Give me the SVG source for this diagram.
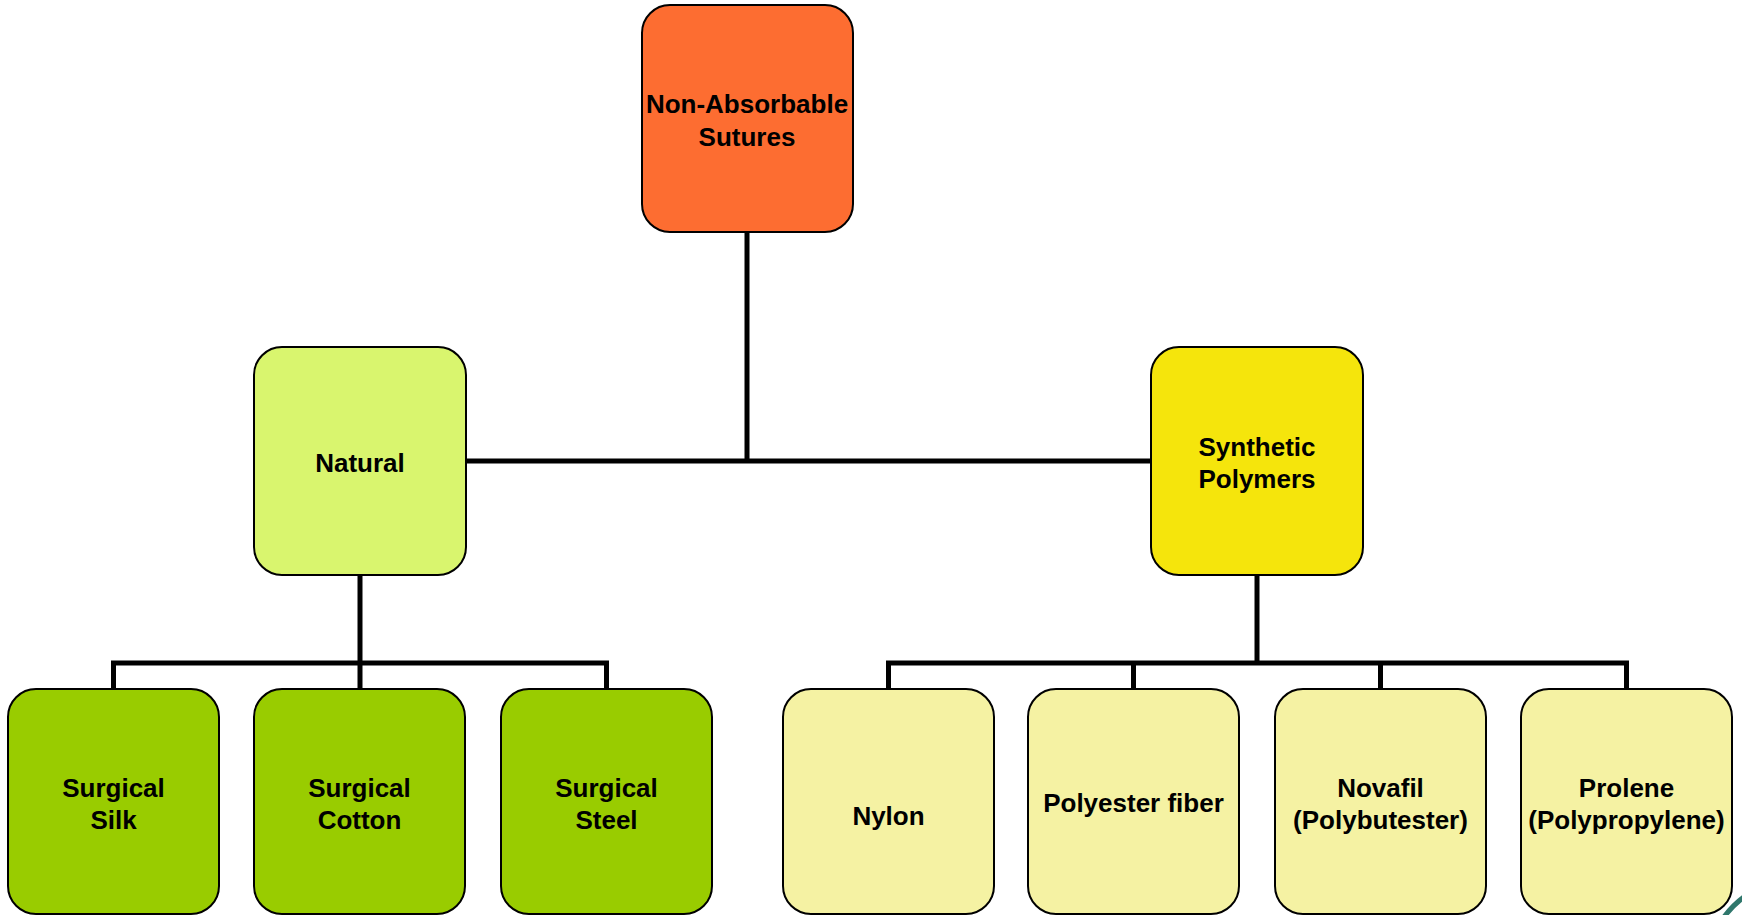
<svg xmlns="http://www.w3.org/2000/svg" width="1742" height="915" viewBox="0 0 1742 915">
<style>
.n{stroke:#000;stroke-width:2}
.t{font-family:"Liberation Sans",Arial,sans-serif;font-weight:bold;font-size:26px;fill:#000;text-anchor:middle}
.c{fill:none;stroke:#000;stroke-width:5;stroke-linejoin:miter;stroke-linecap:butt}
.root{fill:#fd6d31}
.nat{fill:#d9f56e}
.syn{fill:#f5e50c}
.g{fill:#99cc00}
.y{fill:#f5f2a3}
</style>
<rect width="1742" height="915" fill="#fff"/>
<g id="connectors">
<path class="c" d="M747 232V461"/>
<path class="c" d="M466 461H1151"/>
<path class="c" d="M360 575V663"/>
<path class="c" d="M113.5 689V663H606.5V689"/>
<path class="c" d="M360 663V689"/>
<path class="c" d="M1257 575V663"/>
<path class="c" d="M888.5 689V663H1626.5V689"/>
<path class="c" d="M1133.5 663V689"/>
<path class="c" d="M1380.5 663V689"/>
</g>
<g id="root">
<rect class="n root" x="642" y="5" width="211" height="227" rx="28"/>
<text class="t" x="747" y="113">Non-Absorbable</text>
<text class="t" x="747" y="146">Sutures</text>
</g>
<g id="natural">
<rect class="n nat" x="254" y="347" width="212" height="228" rx="28"/>
<text class="t" x="360" y="472">Natural</text>
</g>
<g id="synthetic">
<rect class="n syn" x="1151" y="347" width="212" height="228" rx="28"/>
<text class="t" x="1257" y="456">Synthetic</text>
<text class="t" x="1257" y="488">Polymers</text>
</g>
<g id="silk">
<rect class="n g" x="8" y="689" width="211" height="225" rx="28"/>
<text class="t" x="113.5" y="797">Surgical</text>
<text class="t" x="113.5" y="829">Silk</text>
</g>
<g id="cotton">
<rect class="n g" x="254" y="689" width="211" height="225" rx="28"/>
<text class="t" x="359.5" y="797">Surgical</text>
<text class="t" x="359.5" y="829">Cotton</text>
</g>
<g id="steel">
<rect class="n g" x="501" y="689" width="211" height="225" rx="28"/>
<text class="t" x="606.5" y="797">Surgical</text>
<text class="t" x="606.5" y="829">Steel</text>
</g>
<g id="nylon">
<rect class="n y" x="783" y="689" width="211" height="225" rx="28"/>
<text class="t" x="888.5" y="825">Nylon</text>
</g>
<g id="polyester">
<rect class="n y" x="1028" y="689" width="211" height="225" rx="28"/>
<text class="t" x="1133.5" y="812">Polyester fiber</text>
</g>
<g id="novafil">
<rect class="n y" x="1275" y="689" width="211" height="225" rx="28"/>
<text class="t" x="1380.5" y="797">Novafil</text>
<text class="t" x="1380.5" y="829">(Polybutester)</text>
</g>
<g id="prolene">
<rect class="n y" x="1521" y="689" width="211" height="225" rx="28"/>
<text class="t" x="1626.5" y="797">Prolene</text>
<text class="t" x="1626.5" y="829">(Polypropylene)</text>
</g>
<path d="M1724 917Q1733 905 1744 897" fill="none" stroke="#2f776c" stroke-width="5"/>
</svg>
